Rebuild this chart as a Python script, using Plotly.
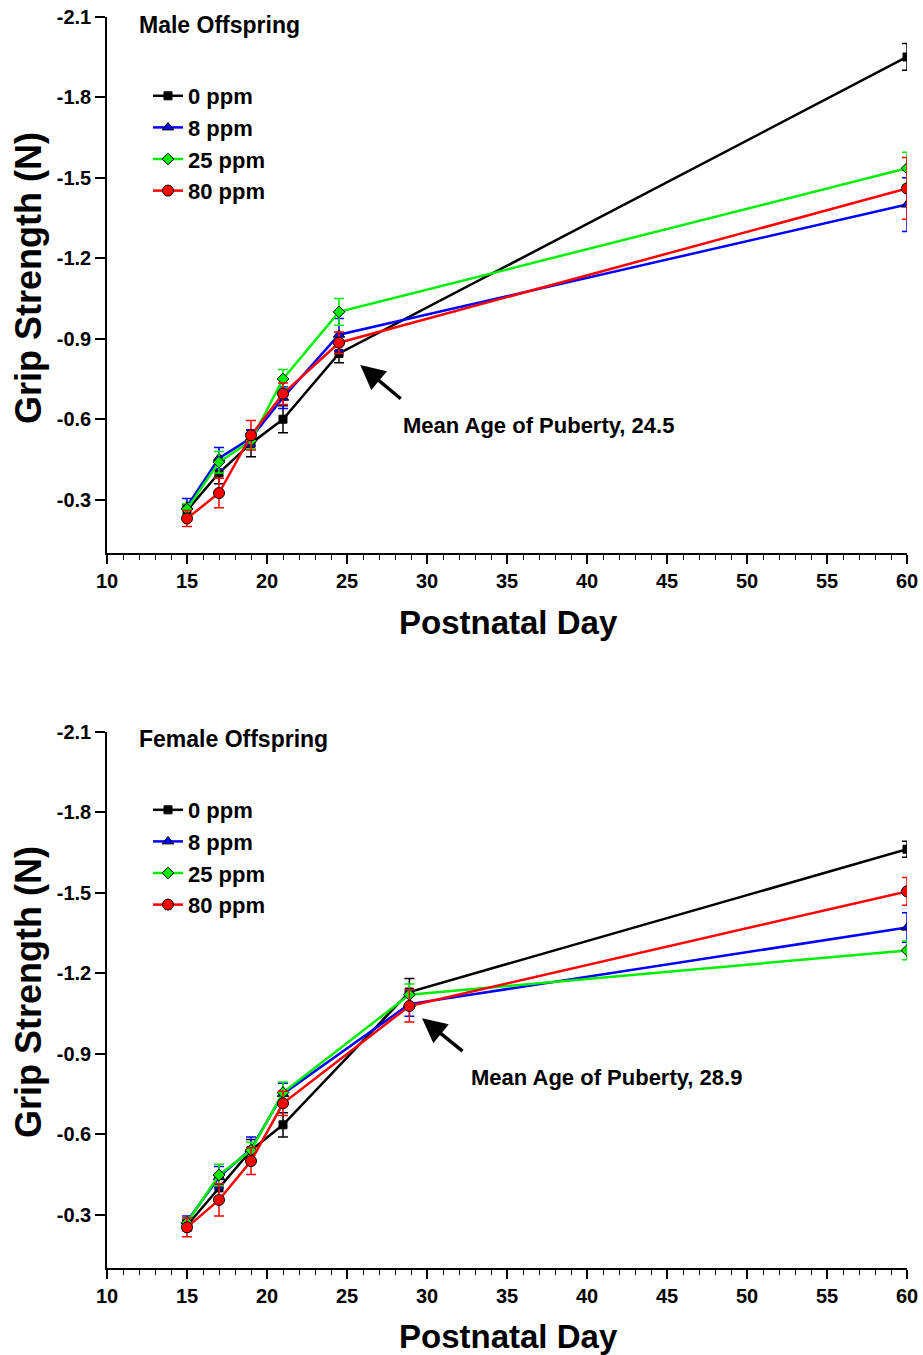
import plotly.graph_objects as go

# ---------------- data ----------------
groups = ["0 ppm", "8 ppm", "25 ppm", "80 ppm"]

male_days = [15, 17, 19, 21, 24.5, 60]
male_vals = {
    "0 ppm":  [-0.26, -0.40, -0.51, -0.60, -0.845, -1.95],
    "8 ppm":  [-0.275, -0.455, -0.53, -0.68, -0.915, -1.40],
    "25 ppm": [-0.265, -0.44, -0.52, -0.75, -1.00, -1.535],
    "80 ppm": [-0.23, -0.325, -0.54, -0.695, -0.885, -1.46],
}
male_err = {
    "0 ppm":  [0.02, 0.04, 0.05, 0.05, 0.035, 0.05],
    "8 ppm":  [0.03, 0.04, 0.03, 0.04, 0.06, 0.10],
    "25 ppm": [0.02, 0.04, 0.03, 0.035, 0.05, 0.06],
    "80 ppm": [0.03, 0.055, 0.055, 0.04, 0.04, 0.115],
}

female_days = [15, 17, 19, 21, 28.9, 60]
female_vals = {
    "0 ppm":  [-0.26, -0.40, -0.54, -0.635, -1.13, -1.662],
    "8 ppm":  [-0.275, -0.44, -0.545, -0.75, -1.085, -1.37],
    "25 ppm": [-0.27, -0.448, -0.54, -0.755, -1.12, -1.285],
    "80 ppm": [-0.253, -0.355, -0.50, -0.715, -1.078, -1.505],
}
female_err = {
    "0 ppm":  [0.02, 0.04, 0.04, 0.045, 0.05, 0.03],
    "8 ppm":  [0.02, 0.04, 0.045, 0.04, 0.045, 0.055],
    "25 ppm": [0.02, 0.04, 0.03, 0.04, 0.04, 0.035],
    "80 ppm": [0.035, 0.06, 0.05, 0.045, 0.06, 0.052],
}

y_ticks = [-2.1, -1.8, -1.5, -1.2, -0.9, -0.6, -0.3]
y_ticklabels = ["-2.1", "-1.8", "-1.5", "-1.2", "-0.9", "-0.6", "-0.3"]
x_ticks = [10, 15, 20, 25, 30, 35, 40, 45, 50, 55, 60]

# ---------------- style ----------------
colors = {"0 ppm": "#000000", "8 ppm": "#0000ff", "25 ppm": "#00ee00", "80 ppm": "#ff0000"}
symbols = {"0 ppm": "square", "8 ppm": "triangle-up", "25 ppm": "diamond", "80 ppm": "circle"}
msize = {"0 ppm": 8, "8 ppm": 10, "25 ppm": 9, "80 ppm": 11}
FONT = "Liberation Sans, Arial, sans-serif"

W, H = 923, 1355
def px_x(p):
    return p / W
def px_y(p):
    return 1 - p / H

fig = go.Figure()

def add_panel(days, vals, errs, xa, ya, legend):
    for g in groups:
        fig.add_trace(go.Scatter(
            x=days, y=vals[g], mode="lines+markers", name=g,
            xaxis=xa, yaxis=ya, legend=legend, showlegend=True,
            line=dict(color=colors[g], width=2.5),
            marker=dict(symbol=symbols[g], size=msize[g], color=colors[g],
                        line=dict(color="black", width=1)),
            error_y=dict(type="data", array=errs[g], color=colors[g],
                         thickness=1.5, width=5),
        ))

add_panel(male_days, male_vals, male_err, "x", "y", "legend")
add_panel(female_days, female_vals, female_err, "x2", "y2", "legend2")

axis_common = dict(showline=True, linecolor="black", linewidth=1.5, showgrid=False,
                   zeroline=False, ticks="outside", tickcolor="black", tickwidth=1.5,
                   tickfont=dict(family=FONT, size=20, color="black", weight="bold"),
                   automargin=False)

xdom = [px_x(107), px_x(907)]
top_dom = [px_y(553.4), px_y(16.7)]
bot_dom = [px_y(1268.4), px_y(731.7)]

xcfg = dict(axis_common, range=[10, 60], tickvals=x_ticks, ticklen=9,
            minor=dict(dtick=1, ticks="outside", ticklen=5, tickcolor="black", tickwidth=1.2))
ycfg = dict(axis_common, range=[-0.1, -2.1], tickvals=y_ticks, ticktext=y_ticklabels, ticklen=10)

legend_font = dict(family=FONT, size=22, color="black", weight="bold")
fig.update_layout(
    width=W, height=H, margin=dict(l=0, r=0, t=0, b=0),
    plot_bgcolor="white", paper_bgcolor="white",
    xaxis=dict(xcfg, domain=xdom, anchor="y"),
    yaxis=dict(ycfg, domain=top_dom, anchor="x"),
    xaxis2=dict(xcfg, domain=xdom, anchor="y2"),
    yaxis2=dict(ycfg, domain=bot_dom, anchor="x2"),
    legend=dict(x=px_x(148), y=px_y(75), xanchor="left", yanchor="top",
                font=legend_font, bgcolor="rgba(0,0,0,0)", tracegroupgap=0),
    legend2=dict(x=px_x(148), y=px_y(789), xanchor="left", yanchor="top",
                 font=legend_font, bgcolor="rgba(0,0,0,0)", tracegroupgap=0),
    showlegend=True,
)

ann_font = dict(family=FONT, size=22, color="black", weight="bold")
head_font = dict(family=FONT, size=23, color="black", weight="bold")
xtitle_font = dict(family=FONT, size=33, color="black", weight="bold")
ytitle_font = dict(family=FONT, size=36, color="black", weight="bold")

annotations = [
    dict(text="Male Offspring", x=px_x(137), y=px_y(25), xref="paper", yref="paper",
         xanchor="left", yanchor="middle", showarrow=False, font=head_font),
    dict(text="Female Offspring", x=px_x(137), y=px_y(739), xref="paper", yref="paper",
         xanchor="left", yanchor="middle", showarrow=False, font=head_font),
    # arrows
    dict(x=25.83, y=-0.802, xref="x", yref="y", ax=42, ay=35, axref="pixel", ayref="pixel",
         showarrow=True, arrowhead=2, arrowsize=1.4, arrowwidth=3.5, arrowcolor="black", text=""),
    dict(x=29.69, y=-1.032, xref="x2", yref="y2", ax=42, ay=34, axref="pixel", ayref="pixel",
         showarrow=True, arrowhead=2, arrowsize=1.4, arrowwidth=3.5, arrowcolor="black", text=""),
    dict(text="Mean Age of Puberty, 24.5", x=36.96, y=-0.578, xref="x", yref="y",
         xanchor="center", yanchor="middle", showarrow=False, font=ann_font),
    dict(text="Mean Age of Puberty, 28.9", x=41.24, y=-0.813, xref="x2", yref="y2",
         xanchor="center", yanchor="middle", showarrow=False, font=ann_font),
    # axis titles
    dict(text="Postnatal Day", x=px_x(509), y=px_y(622), xref="paper", yref="paper",
         xanchor="center", yanchor="middle", showarrow=False, font=xtitle_font),
    dict(text="Postnatal Day", x=px_x(509), y=px_y(1336), xref="paper", yref="paper",
         xanchor="center", yanchor="middle", showarrow=False, font=xtitle_font),
    dict(text="Grip Strength (N)", x=px_x(28), y=px_y(278), xref="paper", yref="paper",
         xanchor="center", yanchor="middle", showarrow=False, textangle=-90, font=ytitle_font),
    dict(text="Grip Strength (N)", x=px_x(28), y=px_y(992), xref="paper", yref="paper",
         xanchor="center", yanchor="middle", showarrow=False, textangle=-90, font=ytitle_font),
]
fig.update_layout(annotations=annotations)

fig.write_html("out.html")
